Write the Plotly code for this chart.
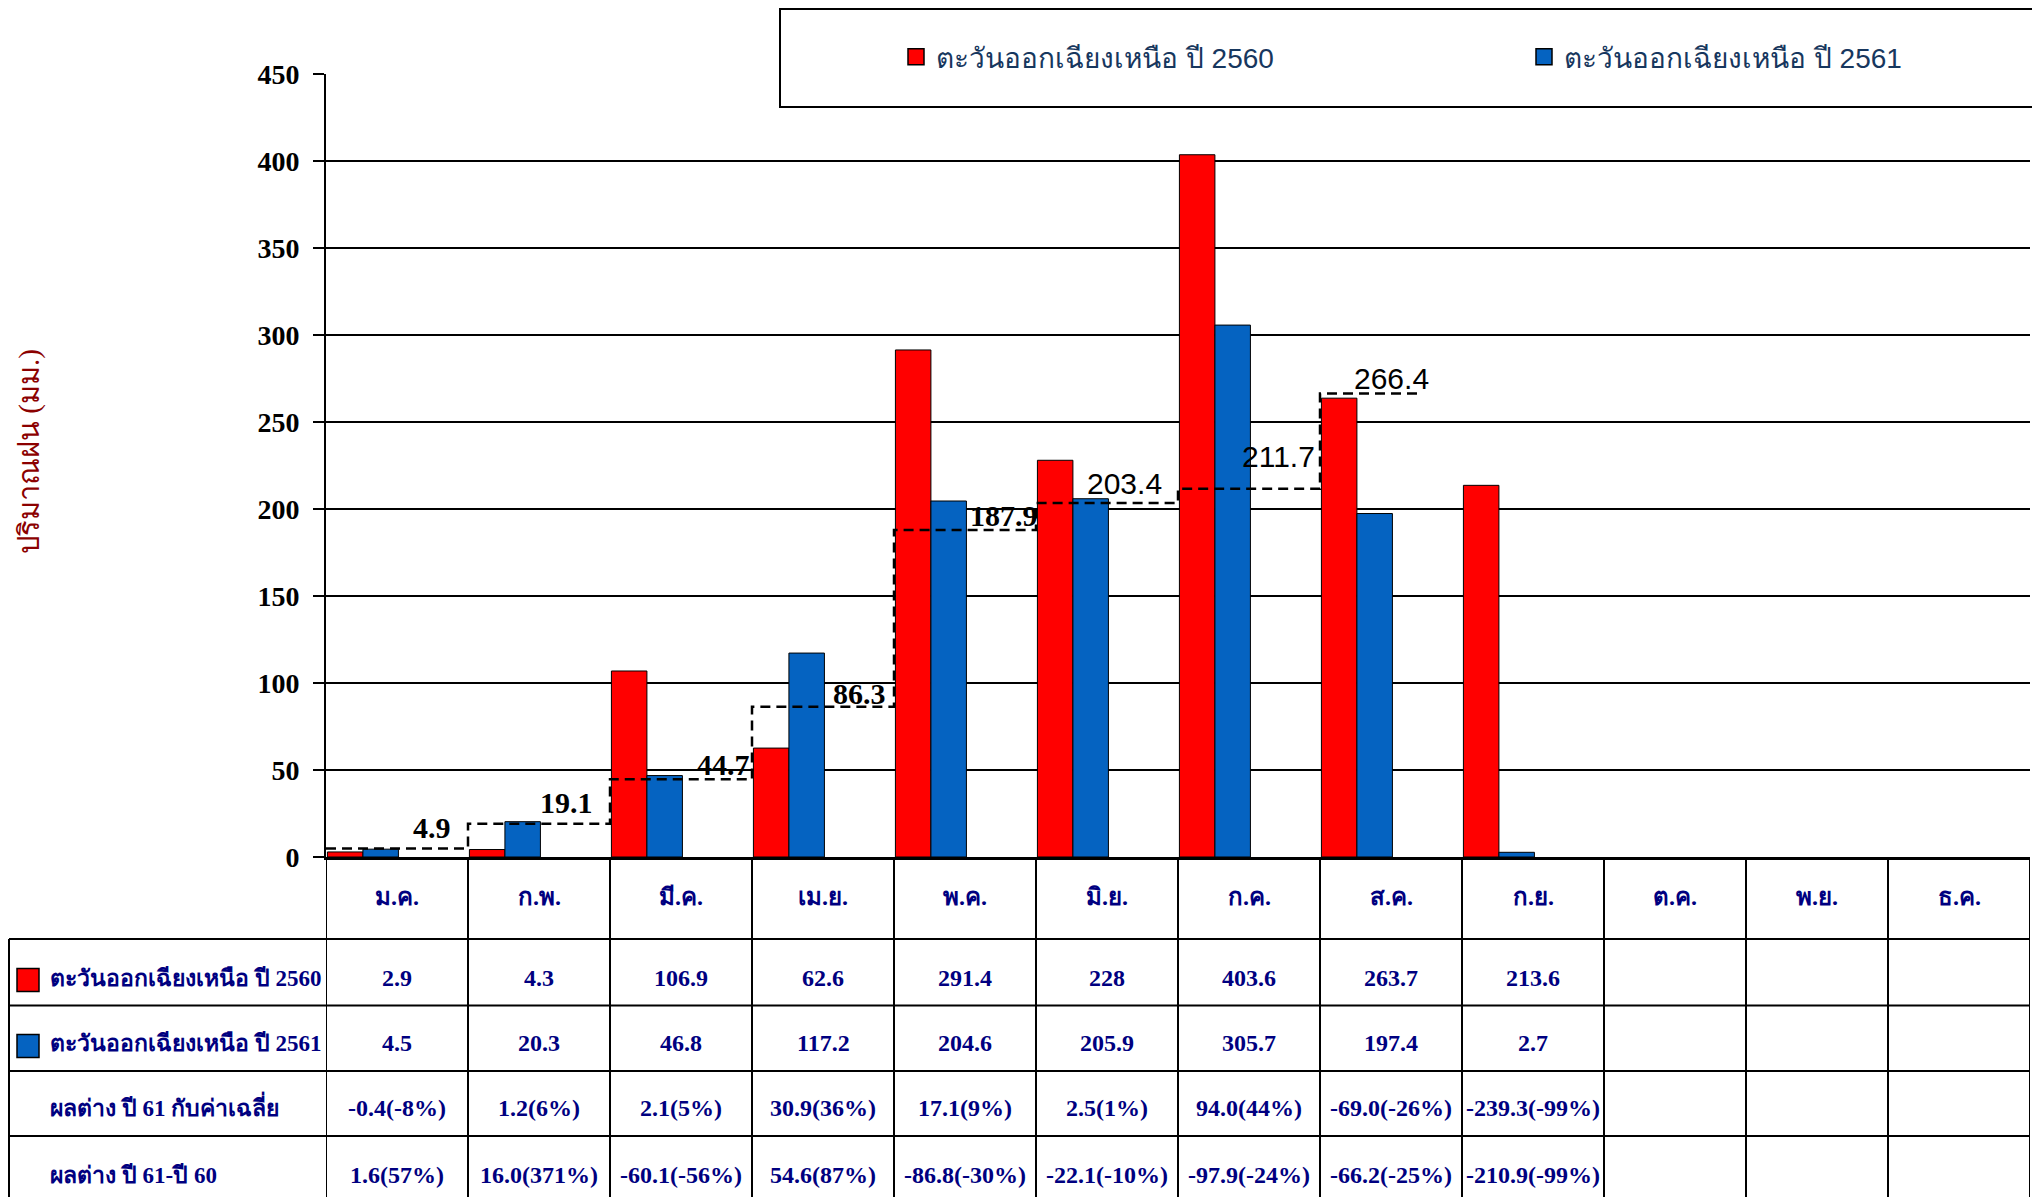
import plotly.graph_objects as go

# ---------------- data ----------------
months = ["ม.ค.", "ก.พ.", "มี.ค.", "เม.ย.", "พ.ค.", "มิ.ย.", "ก.ค.", "ส.ค.", "ก.ย.", "ต.ค.", "พ.ย.", "ธ.ค."]
series_names = ["ตะวันออกเฉียงเหนือ ปี 2560", "ตะวันออกเฉียงเหนือ ปี 2561"]
rain_2560 = [2.9, 4.3, 106.9, 62.6, 291.4, 228, 403.6, 263.7, 213.6, None, None, None]
rain_2561 = [4.5, 20.3, 46.8, 117.2, 204.6, 205.9, 305.7, 197.4, 2.7, None, None, None]
avg_normal = [4.9, 19.1, 44.7, 86.3, 187.9, 203.4, 211.7, 266.4]
diff_vs_avg = ["-0.4(-8%)", "1.2(6%)", "2.1(5%)", "30.9(36%)", "17.1(9%)", "2.5(1%)",
               "94.0(44%)", "-69.0(-26%)", "-239.3(-99%)", "", "", ""]
diff_61_60 = ["1.6(57%)", "16.0(371%)", "-60.1(-56%)", "54.6(87%)", "-86.8(-30%)", "-22.1(-10%)",
              "-97.9(-24%)", "-66.2(-25%)", "-210.9(-99%)", "", "", ""]
diff_row_titles = ["ผลต่าง ปี 61 กับค่าเฉลี่ย", "ผลต่าง ปี 61-ปี 60"]
y_ticks = [0, 50, 100, 150, 200, 250, 300, 350, 400, 450]
y_title = "ปริมาณฝน (มม.)"

# ---------------- layout geometry (pixels) ----------------
W, H = 2040, 1197
def px_x(x):
    return x / W
def px_y(y):
    return 1 - y / H

PLOT_L, PLOT_R, PLOT_T, PLOT_B = 318, 2022, 66, 849
TABLE_L = 1
ROW_LINES = [931, 997.5, 1063, 1128, 1194]
HEADER_TXT = 904
ROW_TXT = [985, 1050, 1115, 1182]
ROW_SQ = [972, 1038]
RED, BLUE = "#FF0000", "#0563C1"
NAVY = "#000080"
LEGEND_TXT = "#17375E"
SERIF = "Liberation Serif"
SANS = "Liberation Sans"

fig = go.Figure()

fig.add_bar(x=months, y=rain_2560, offset=-0.49, width=0.25, name=series_names[0],
            marker=dict(color=RED, line=dict(color="black", width=1)),
            legendgroup="s0", showlegend=False)
fig.add_bar(x=months, y=rain_2561, offset=-0.24, width=0.25, name=series_names[1],
            marker=dict(color=BLUE, line=dict(color="black", width=1)),
            legendgroup="s1", showlegend=False)
# legend entries (larger square swatches), linked to the bar traces
for k, (nm, col) in enumerate(zip(series_names, [RED, BLUE])):
    fig.add_scatter(x=[None], y=[None], mode="markers", name=nm, legendgroup=f"s{k}",
                    marker=dict(symbol="square", size=16, color=col, line=dict(color="black", width=1.5)),
                    legend="legend" if k == 0 else "legend2", hoverinfo="skip")

# average (normal) step line on a linear overlay axis
step_x = list(range(len(avg_normal))) + [len(avg_normal) - 1 + 0.7]
step_y = avg_normal + [avg_normal[-1]]
fig.add_scatter(x=step_x, y=step_y, xaxis="x2", yaxis="y", mode="lines",
                line=dict(color="black", width=2.5, dash="10px,6px", shape="hv"),
                showlegend=False, hoverinfo="skip")

annotations = []
shapes = []

# average labels
lbl_xshift = [-15, -15, 0, -6, 4, -14, -3, 0]
lbl_yshift = [2, 3, -4, -5, -4, 1, 14, -4]
lbl_bold = [True, True, True, True, True, False, False, False]
for i, v in enumerate(avg_normal):
    last = i == len(avg_normal) - 1
    annotations.append(dict(
        x=(i + 0.5) if last else (i + 1), y=v, xref="x2", yref="y",
        text=f"{v:.1f}", showarrow=False,
        xanchor="center" if last else "right", yanchor="bottom",
        xshift=lbl_xshift[i], yshift=lbl_yshift[i],
        font=dict(family=SERIF if lbl_bold[i] else SANS, size=30, color="black",
                  weight="bold" if lbl_bold[i] else "normal")))

# y-axis title
annotations.append(dict(x=px_x(21), y=px_y(444), xref="paper", yref="paper", text=y_title,
                        textangle=-90, showarrow=False, xanchor="center", yanchor="middle",
                        font=dict(family=SERIF, size=29, color="#8B0000")))

# ---------------- data table ----------------
tfont = dict(family=SERIF, size=24, color=NAVY, weight="bold")
title_font = dict(family=SERIF, size=23, color=NAVY, weight="bold")

for m in months:
    annotations.append(dict(x=m, y=px_y(HEADER_TXT), xref="x", yref="paper", text=m,
                            showarrow=False, font=tfont))

row_values = [
    ["" if v is None else f"{v:g}" for v in rain_2560],
    ["" if v is None else f"{v:g}" for v in rain_2561],
    diff_vs_avg,
    diff_61_60,
]
row_titles = series_names + diff_row_titles
row_colors = [RED, BLUE]
for k in range(4):
    for m, t in zip(months, row_values[k]):
        if t:
            annotations.append(dict(x=m, y=px_y(ROW_TXT[k]), xref="x", yref="paper", text=t,
                                    showarrow=False, font=tfont))
    annotations.append(dict(x=px_x(40), y=px_y(ROW_TXT[k]), xref="paper", yref="paper",
                            text=row_titles[k], showarrow=False, xanchor="left", font=title_font))
for k, col in enumerate(row_colors):
    shapes.append(dict(type="rect", xref="paper", yref="paper",
                       x0=px_x(9), x1=px_x(31),
                       y0=px_y(ROW_SQ[k] - 11.5), y1=px_y(ROW_SQ[k] + 11.5),
                       fillcolor=col, line=dict(color="black", width=1.5)))

grid_line = dict(color="black", width=2)
for j in range(len(months) + 1):
    shapes.append(dict(type="line", xref="x2", yref="paper", x0=j, x1=j,
                       y0=px_y(PLOT_B), y1=0, line=grid_line))
shapes.append(dict(type="line", xref="paper", yref="paper", x0=px_x(TABLE_L), x1=px_x(TABLE_L),
                   y0=px_y(ROW_LINES[0]), y1=0, line=grid_line))
for r in ROW_LINES:
    shapes.append(dict(type="line", xref="paper", yref="paper", x0=px_x(TABLE_L), x1=px_x(PLOT_R),
                       y0=px_y(r), y1=px_y(r), line=grid_line))

# legend frame
shapes.append(dict(type="rect", xref="paper", yref="paper", x0=px_x(772), x1=px_x(2028),
                   y0=px_y(99), y1=px_y(1), fillcolor="white", line=dict(color="black", width=2)))

legend_common = dict(orientation="h", yanchor="middle", xanchor="left", y=px_y(49),
                     bgcolor="rgba(0,0,0,0)", borderwidth=0,
                     font=dict(family=SANS, size=28, color=LEGEND_TXT))

fig.update_layout(
    template="none",
    width=W, height=H,
    margin=dict(l=0, r=0, t=0, b=0, autoexpand=False),
    paper_bgcolor="white", plot_bgcolor="white",
    barmode="overlay",
    showlegend=True,
    legend=dict(x=px_x(888), **legend_common),
    legend2=dict(x=px_x(1516), **legend_common),
    xaxis=dict(domain=[px_x(PLOT_L), px_x(PLOT_R)], type="category", categoryorder="array",
               categoryarray=months, range=[-0.5, len(months) - 0.5], automargin=False,
               showticklabels=False, ticks="", showgrid=False, zeroline=False,
               showline=True, linecolor="black", linewidth=3),
    xaxis2=dict(domain=[px_x(PLOT_L), px_x(PLOT_R)], overlaying="x", range=[0, len(months)],
                visible=False, anchor="y", automargin=False),
    yaxis=dict(domain=[px_y(PLOT_B), px_y(PLOT_T)], range=[0, 450], tickvals=y_ticks,
               automargin=False,
               showgrid=True, gridcolor="black", gridwidth=2, zeroline=False,
               showline=True, linecolor="black", linewidth=2,
               ticks="outside", ticklen=11, tickwidth=1.5, tickcolor="black",
               ticklabelstandoff=8,
               tickfont=dict(family=SERIF, size=28, color="black", weight="bold")),
    annotations=annotations,
    shapes=shapes,
)

fig.write_html("out.html")
